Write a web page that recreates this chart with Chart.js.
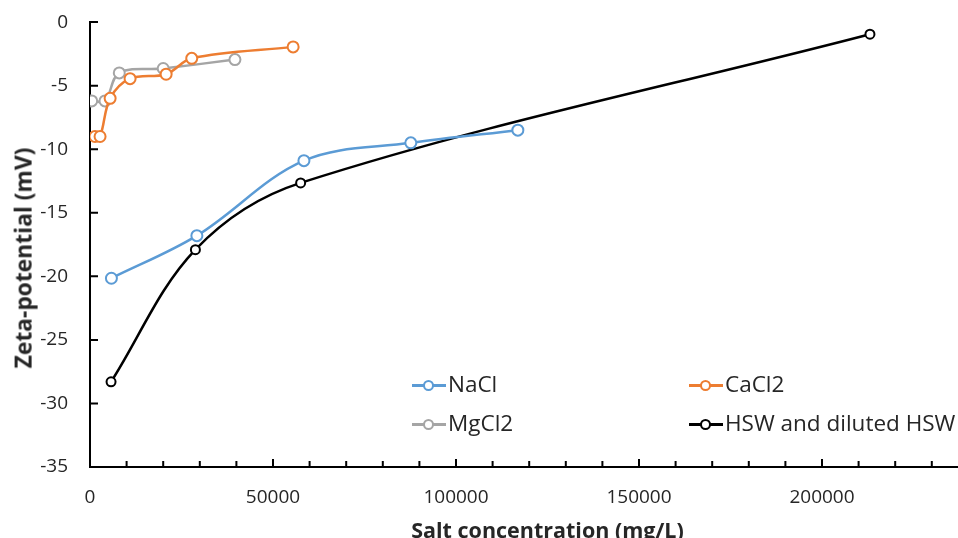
<!DOCTYPE html>
<html>
<head>
<meta charset="utf-8">
<script src="https://cdn.jsdelivr.net/npm/chart.js@4.4.1/dist/chart.umd.min.js"></script>
<style>
  html, body { margin: 0; padding: 0; background: #fff; overflow: hidden; width: 958px; height: 538px; }
  #wrap { position: absolute; left: 0; top: 0; width: 1024px; height: 545px; }
  .leg { position: absolute; font-family: 'Open Sans', sans-serif; font-size: 22.5px; color: #262626; white-space: nowrap; line-height: 1; }
  .mk { position: absolute; height: 2.5px; width: 34px; }
  .dot { position: absolute; width: 7px; height: 7px; border-radius: 50%; background: #fff; border: 2px solid; }
  #ytitle { position: absolute; left: 24px; top: 258px; transform: translate(-50%, -50%) rotate(-90deg);
            font-family: 'Open Sans', sans-serif; font-weight: bold; font-size: 22.8px; line-height: 1; color: #262626; white-space: nowrap; }
</style>
</head>
<body>
<div id="wrap"><canvas id="zetaChart"></canvas></div>
<div id="ytitle">Zeta-potential (mV)</div>
<div id="legend"></div>
<script>
// salt concentration (mg/L) and zeta potential (mV) per brine
const naclX = [5850, 29200, 58450, 87650, 116900];
const naclY = [-20.15, -16.8, -10.9, -9.5, -8.5];
const cacl2X = [1370, 2750, 5500, 10950, 20800, 27800, 55500];
const cacl2Y = [-9.0, -9.0, -6.0, -4.45, -4.1, -2.85, -1.95];
const mgcl2X = [460, 4100, 8000, 20000, 39600];
const mgcl2Y = [-6.2, -6.2, -4.0, -3.65, -2.95];
const hswX = [5750, 28800, 57550, 213100];
const hswY = [-28.3, -17.9, -12.65, -0.95];

const xMajor = [0, 50000, 100000, 150000, 200000, 250000];
const yMajor = [0, -5, -10, -15, -20, -25, -30, -35];

const series = [
  { label: 'NaCl', xs: naclX, ys: naclY, color: '#5B9BD5', r: 5.5 },
  { label: 'CaCl2', xs: cacl2X, ys: cacl2Y, color: '#ED7D31', r: 5.5 },
  { label: 'MgCl2', xs: mgcl2X, ys: mgcl2Y, color: '#A5A5A5', r: 5.5 },
  { label: 'HSW and diluted HSW', xs: hswX, ys: hswY, color: '#000000', r: 4.5 }
];

function toPoints(xs, ys) {
  return xs.map((x, i) => ({ x: x, y: ys[i] }));
}

// Excel-style tick marks drawn inward
const innerTicks = {
  id: 'innerTicks',
  afterDraw(chart) {
    const { ctx, scales: { x, y } } = chart;
    ctx.save();
    ctx.strokeStyle = '#000';
    ctx.lineWidth = 2;
    ctx.beginPath();
    yMajor.forEach(v => {
      const py = y.getPixelForValue(v);
      ctx.moveTo(x.left, py);
      ctx.lineTo(x.left + 8, py);
    });
    for (let v = 10000; v <= 250000; v += 10000) {
      const px = x.getPixelForValue(v);
      const len = v % 50000 === 0 ? 8 : 6;
      ctx.moveTo(px, y.bottom);
      ctx.lineTo(px, y.bottom - len);
    }
    ctx.stroke();
    ctx.restore();
  }
};

const ctx = document.getElementById('zetaChart').getContext('2d');
const chart = new Chart(ctx, {
  type: 'scatter',
  data: {
    datasets: series.map(s => ({
      label: s.label,
      data: toPoints(s.xs, s.ys),
      showLine: true,
      borderColor: s.color,
      borderWidth: 2.5,
      tension: 0.35,
      pointRadius: s.r,
      pointBorderWidth: 2,
      pointBackgroundColor: '#fff',
      pointBorderColor: s.color
    }))
  },
  options: {
    responsive: true,
    maintainAspectRatio: false,
    animation: false,
    layout: { padding: { top: 22, left: 0, right: 0, bottom: 0 } },
    plugins: { legend: { display: false }, tooltip: { enabled: false } },
    scales: {
      x: {
        type: 'linear',
        min: 0,
        max: 250000,
        afterBuildTicks: s => { s.ticks = xMajor.map(v => ({ value: v })); },
        afterFit: s => { s.height = 78; },
        grid: { display: false, drawTicks: false },
        border: { color: '#000', width: 2 },
        ticks: {
          color: '#262626', padding: 19, maxRotation: 0, font: { family: 'Open Sans', size: 19 },
          // the last label sits past the right edge of the picture
          callback: v => (v === 250000 ? '' : String(v))
        },
        title: { display: true, text: 'Salt concentration (mg/L)', color: '#262626', padding: 0, font: { family: 'Open Sans', size: 21.5, weight: 'bold' } }
      },
      y: {
        type: 'linear',
        min: -35,
        max: 0,
        afterBuildTicks: s => { s.ticks = yMajor.map(v => ({ value: v })); },
        afterFit: s => { s.width = 90; },
        grid: { display: false, drawTicks: false },
        border: { color: '#000', width: 2 },
        // tiny lineHeight keeps the label padding from pushing the plot top down
        ticks: { color: '#262626', padding: 22, font: { family: 'Open Sans', size: 19, lineHeight: 0.01 }, callback: v => String(v) },
        title: { display: false }
      }
    }
  },
  plugins: [innerTicks]
});

// legend laid out in two columns inside the plot, as in the original
const legendPos = [
  { left: 412, top: 385 }, { left: 689, top: 385 },
  { left: 412, top: 424 }, { left: 689, top: 424 }
];
const legend = document.getElementById('legend');
series.forEach((s, i) => {
  const p = legendPos[i];
  const line = document.createElement('div');
  line.className = 'mk';
  line.style.left = p.left + 'px';
  line.style.top = (p.top - 1) + 'px';
  line.style.background = s.color;
  legend.appendChild(line);
  const dot = document.createElement('div');
  dot.className = 'dot';
  dot.style.left = (p.left + 11) + 'px';
  dot.style.top = (p.top - 5) + 'px';
  dot.style.borderColor = s.color;
  legend.appendChild(dot);
  const txt = document.createElement('div');
  txt.className = 'leg';
  txt.textContent = s.label;
  txt.style.left = (p.left + 36) + 'px';
  txt.style.top = (p.top - 12) + 'px';
  legend.appendChild(txt);
});
</script>
</body>
</html>
